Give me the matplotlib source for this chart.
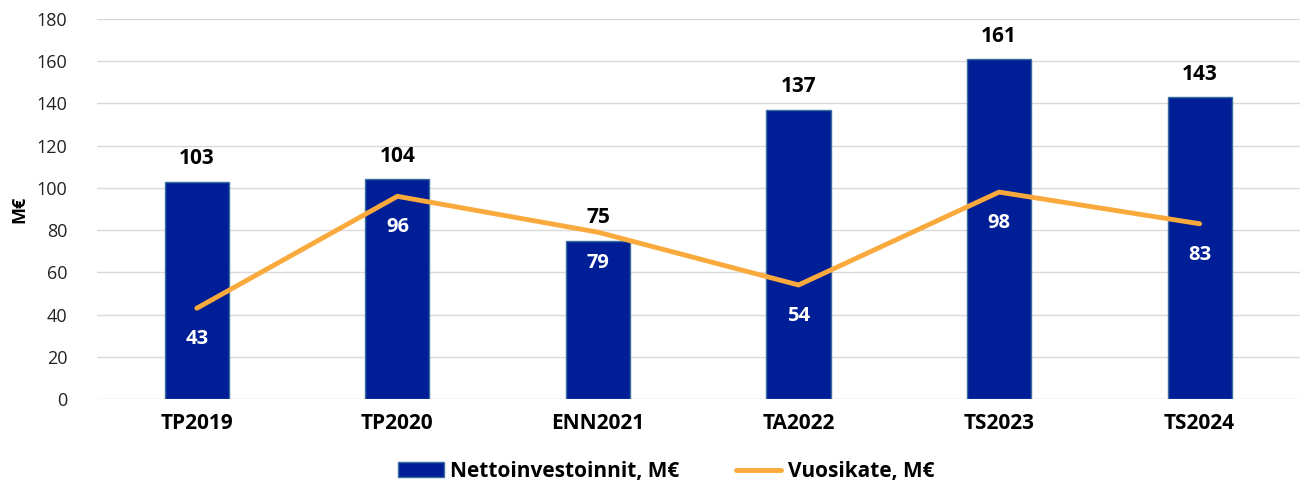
import matplotlib
matplotlib.use("Agg")
import matplotlib.pyplot as plt
from matplotlib.patches import Patch
from matplotlib.lines import Line2D

categories = ["TP2019", "TP2020", "ENN2021", "TA2022", "TS2023", "TS2024"]
netto = [103, 104, 75, 137, 161, 143]
vuosikate = [43, 96, 79, 54, 98, 83]
yticks = [0, 20, 40, 60, 80, 100, 120, 140, 160, 180]

plt.rcParams['font.family'] = ['Open Sans', 'DejaVu Sans']

fig = plt.figure(figsize=(13.01, 4.86), dpi=100)
ax = fig.add_axes([0.0742, 0.179, 0.925, 0.782])

x = list(range(len(categories)))
bar_color = "#001E96"
line_color = "#FAAA3C"
ax.bar(x, netto, width=0.32, color=bar_color, edgecolor="#3C6E9E", linewidth=1, zorder=2)
ax.plot(x, vuosikate, color=line_color, linewidth=3.5, zorder=3, solid_capstyle="round")

for xi, v in zip(x, netto):
    ax.annotate(str(v), (xi, v), xytext=(0, 23), textcoords="offset pixels",
                ha="center", va="center", fontsize=15, fontweight="bold", color="black")
for xi, v in zip(x, vuosikate):
    ax.annotate(str(v), (xi, v), xytext=(0, -31), textcoords="offset pixels",
                ha="center", va="center", fontsize=14.5, fontweight="bold", color="white", zorder=4)

ax.set_xlim(-0.5, len(categories) - 0.5)
ax.set_ylim(0, 180)
ax.set_yticks(yticks)
ax.set_yticklabels([str(t) for t in yticks], fontsize=13, color="#222222")
ax.set_xticks(x)
ax.set_xticklabels(categories, fontsize=15, fontweight="bold")
ax.tick_params(axis="both", length=0)
ax.tick_params(axis="y", pad=21)
ax.tick_params(axis="x", pad=10)
ax.grid(axis="y", color="#D9D9D9", linewidth=1, zorder=0)
ax.set_axisbelow(True)
for s in ax.spines.values():
    s.set_visible(False)
ax.set_ylabel("M€", fontsize=13, fontweight="bold", labelpad=6)

handles = [Patch(facecolor=bar_color, edgecolor="#3C6E9E", label="Nettoinvestoinnit, M€"),
           Line2D([0], [0], color=line_color, linewidth=3.5, solid_capstyle="round", label="Vuosikate, M€")]
fig.legend(handles=handles, loc="center", bbox_to_anchor=(0.512, 0.03), ncol=2, frameon=False,
           prop={"size": 15, "weight": "bold"}, columnspacing=2.7, handlelength=2.2, handletextpad=0.3)

fig.savefig("out.png", dpi=100)
